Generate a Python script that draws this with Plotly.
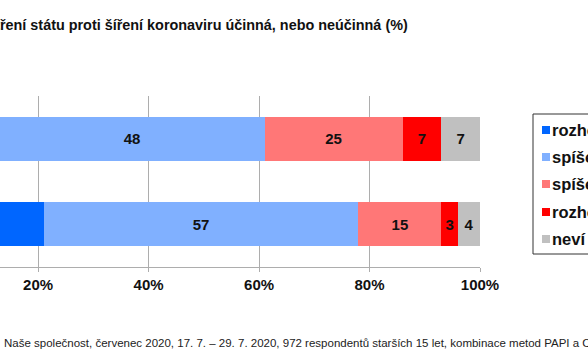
import plotly.graph_objects as go

# ---- data ----
categories = ["červenec 2020 – A", "červenec 2020 – B"]
series_names = ["rozhodně účinná", "spíše účinná", "spíše neúčinná", "rozhodně neúčinná", "neví"]
values_top = [13, 48, 25, 7, 7]
values_bottom = [21, 57, 15, 3, 4]
tick_vals = [20, 40, 60, 80, 100]
tick_labels = ["20%", "40%", "60%", "80%", "100%"]
title_text = "Jsou opatření státu proti šíření koronaviru účinná, nebo neúčinná (%)"
source_text = ("Naše společnost, červenec 2020, 17. 7. – 29. 7. 2020, 972 respondentů "
               "starších 15 let, kombinace metod PAPI a CAWI.")

colors = ["#0066FF", "#80B0FF", "#FF7777", "#FF0000", "#C0C0C0"]

FONT = "Liberation Sans, Arial, sans-serif"
W, H = 588, 363
ML, MR, MT, MB = 0, 108, 96, 96
PW = W - ML - MR
PH = H - MT - MB


def px(x):
    return (x - ML) / PW


def py(y):
    return (H - MB - y) / PH


fig = go.Figure()
for i, name in enumerate(series_names):
    vals = [values_top[i], values_bottom[i]]
    fig.add_trace(go.Bar(
        y=categories, x=vals, name=name, orientation="h",
        marker=dict(color=colors[i], line=dict(width=0)),
        text=[str(v) for v in vals], textposition="inside",
        insidetextanchor="middle",
        textfont=dict(family=FONT, size=15, color="#111111", weight="bold"),
        showlegend=False, cliponaxis=True,
    ))

shapes = []
annotations = []

# legend (box, swatches, labels)
shapes.append(dict(type="rect", xref="paper", yref="paper",
                   x0=px(533), x1=px(640), y0=py(254), y1=py(114),
                   line=dict(color="#333333", width=1), fillcolor="rgba(0,0,0,0)"))
leg_y = [130, 157, 184, 212, 239]
for i, name in enumerate(series_names):
    shapes.append(dict(type="rect", xref="paper", yref="paper",
                       x0=px(542), x1=px(550), y0=py(leg_y[i] + 4), y1=py(leg_y[i] - 4),
                       line=dict(width=0), fillcolor=colors[i]))
    annotations.append(dict(xref="paper", yref="paper", x=px(550), y=py(leg_y[i]),
                            xanchor="left", yanchor="middle", showarrow=False,
                            text=name, font=dict(family=FONT, size=16.5, color="#111111", weight="bold")))

annotations.append(dict(xref="paper", yref="paper", x=px(410), y=py(25),
                        xanchor="right", yanchor="middle", showarrow=False,
                        text=title_text,
                        font=dict(family=FONT, size=14.4, color="#111111", weight="bold")))
annotations.append(dict(xref="paper", yref="paper", x=px(2), y=py(343),
                        xanchor="left", yanchor="middle", showarrow=False,
                        text=source_text,
                        font=dict(family=FONT, size=11.5, color="#222222")))

fig.update_layout(
    width=W, height=H,
    margin=dict(l=ML, r=MR, t=MT, b=MB, autoexpand=False),
    barmode="stack", bargap=0.485,
    plot_bgcolor="white", paper_bgcolor="white",
    shapes=shapes, annotations=annotations,
    xaxis=dict(range=[13.1, 100], tickvals=tick_vals, ticktext=tick_labels,
               showgrid=True, gridcolor="#ADADAD", gridwidth=1,
               showline=True, linecolor="#ADADAD", linewidth=1,
               ticks="outside", ticklen=4, tickcolor="#ADADAD",
               tickfont=dict(family=FONT, size=15, color="#111111", weight="bold"),
               zeroline=False, fixedrange=True),
    yaxis=dict(autorange="reversed", showticklabels=False, showgrid=False,
               zeroline=False, showline=False, ticks="", fixedrange=True),
    showlegend=False,
)

fig.write_html("out.html",
               config={"displayModeBar": False, "staticPlot": True},
               post_script="document.body.style.margin='0';document.body.style.padding='0';")
